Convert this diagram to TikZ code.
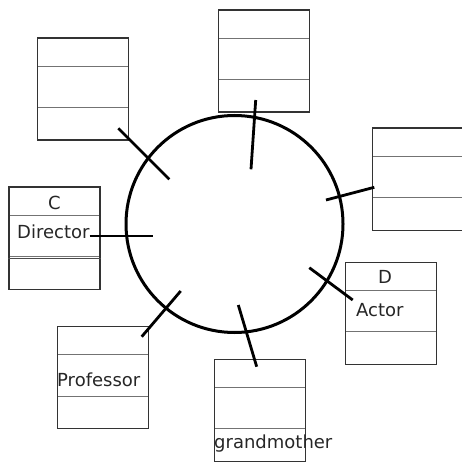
\documentclass[tikz,border=0pt]{standalone}
\usepackage{fontspec}
\setmainfont{DejaVu Sans}
\usetikzlibrary{positioning}

\tikzset{
    classbox/.style={draw=black!80, line width=1.3pt, rectangle, anchor=north west,
        minimum width=91pt, minimum height=102pt, inner sep=0pt,
        path picture={
            \draw[black!55, line width=0.9pt]
                ([yshift=-28pt]path picture bounding box.north west) -- ([yshift=-28pt]path picture bounding box.north east)
                ([yshift=-69.5pt]path picture bounding box.north west) -- ([yshift=-69.5pt]path picture bounding box.north east);
        }},
    lbl/.style={inner sep=0pt, font=\fontsize{18}{20}\selectfont, text=black!85},
    link/.style={line width=2.8pt, line cap=butt}
}

\begin{document}
\begin{tikzpicture}[x=1pt, y=-1pt]
    \useasboundingbox (0,0) rectangle (461,462);
    % the association ring
    \node[draw, circle, line width=3pt, minimum size=217pt, inner sep=0pt] (ring) at (234.5,224) {};
    % classes around it
    \node[classbox] (topLeft) at (37,37.5) {};
    \node[classbox] (topMid) at (217.5,9.5) {};
    \node[classbox] (right) at (372,127.5) {};
    \node[classbox, line width=1.8pt] (classC) at (8,186.5) {};
    \node[classbox] (classD) at (345,261.5) {};
    \node[classbox] (prof) at (56.5,326) {};
    \node[classbox] (grand) at (213.5,358.5) {};
    \draw[black!70, line width=0.8pt] ([yshift=-72pt]classC.north west) -- ([yshift=-72pt]classC.north east);
    % texts
    \node[lbl, anchor=base] (cName) at ([yshift=-22.5pt]classC.north) {C};
    \node[lbl, anchor=base west] (director) at ([xshift=9pt,yshift=-51.5pt]classC.north west) {Director};
    \node[lbl, anchor=base] (dName) at ([xshift=-6pt,yshift=-21.5pt]classD.north) {D};
    \node[lbl, anchor=base west] (actor) at ([xshift=11pt,yshift=-54.5pt]classD.north west) {Actor};
    \node[lbl, anchor=base west] (professor) at ([xshift=0.5pt,yshift=-60.5pt]prof.north west) {Professor};
    \node[lbl, anchor=base west] (grandmother) at ([xshift=0.5pt,yshift=-89.5pt]grand.north west) {grandmother};
    % role ends
    \coordinate (tlOut) at (118.3,128.3);
    \coordinate (tlIn) at (169.3,179.3);
    \coordinate (tmOut) at (255.7,100);
    \coordinate (tmIn) at (251,169.3);
    \coordinate (rOut) at (374.3,187.3);
    \coordinate (rIn) at (326,200);
    \coordinate (cIn) at (153.3,236);
    \coordinate (dOut) at (352.7,300);
    \coordinate (dIn) at (309.3,267.7);
    \coordinate (pOut) at (141.7,336.7);
    \coordinate (pIn) at (180.7,291);
    \coordinate (gOut) at (256.7,366.7);
    \coordinate (gIn) at (238.3,305);
    \draw[link] (tlOut) -- (tlIn);
    \draw[link] (tmOut) -- (tmIn);
    \draw[link] (rOut) -- (rIn);
    \draw[link] (cIn -| director.east) -- (cIn);
    \draw[link] (dOut) -- (dIn);
    \draw[link] (pOut) -- (pIn);
    \draw[link] (gOut) -- (gIn);
\end{tikzpicture}
\end{document}
